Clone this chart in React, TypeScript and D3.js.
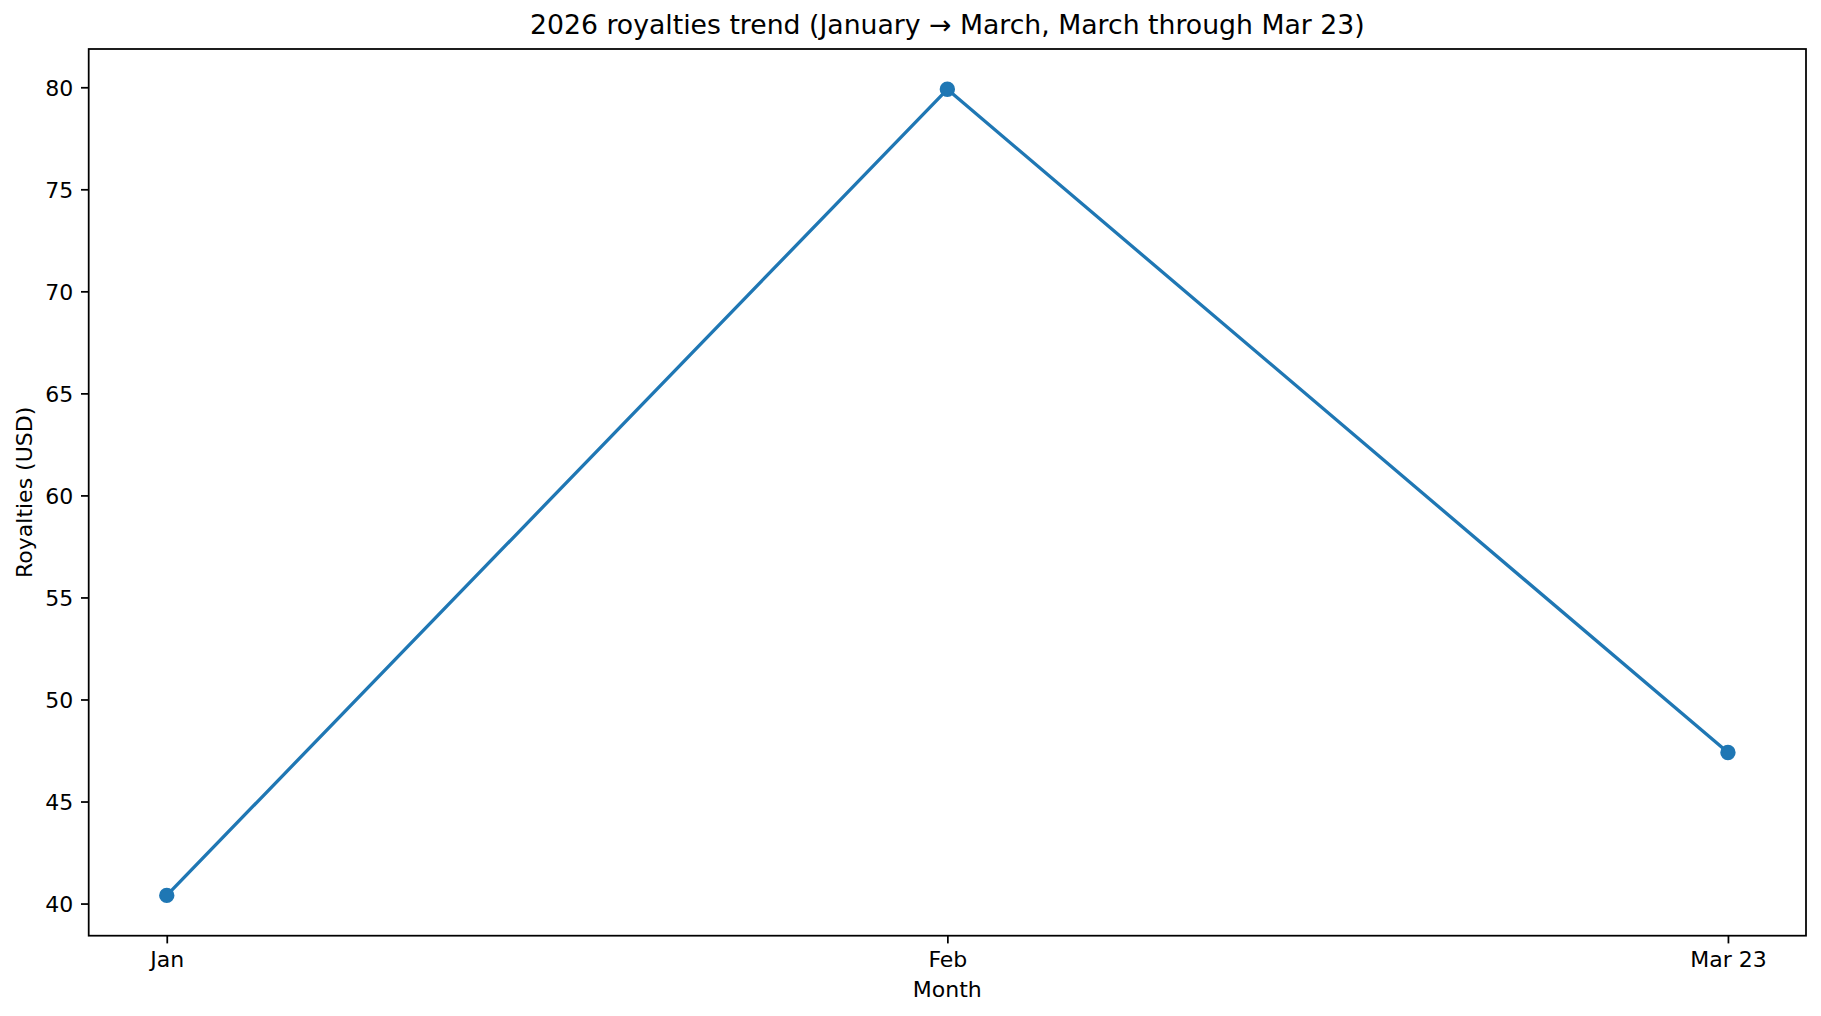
import { axisBottom, axisLeft, line, max, min, scaleLinear, scalePoint, select } from "d3";
import { useEffect, useRef } from "react";

const months = ["Jan", "Feb", "Mar 23"];
const royalties = [40.4, 79.9, 47.4];
const yTicks = [40, 45, 50, 55, 60, 65, 70, 75, 80];

const title = "2026 royalties trend (January → March, March through Mar 23)";
const xLabel = "Month";
const yLabel = "Royalties (USD)";

const WIDTH = 1821;
const HEIGHT = 1016;
const margin = { top: 49, right: 15, bottom: 80.3, left: 88.7 };
const PT = 2.2; // px per point
const BLUE = "#1f77b4";
const FONT = "'DejaVu Sans', sans-serif";

const App = () => {
  const ref = useRef<SVGSVGElement>(null);

  useEffect(() => {
    document.body.style.margin = "0";
    if (!ref.current) return;

    const svg = select(ref.current);
    svg.selectAll("*").remove();

    const innerW = WIDTH - margin.left - margin.right;
    const innerH = HEIGHT - margin.top - margin.bottom;

    const lo = min(royalties) as number;
    const hi = max(royalties) as number;
    const pad = (hi - lo) * 0.05;

    const x = scalePoint<string>().domain(months).range([0, innerW]).padding(0.1);
    const y = scaleLinear().domain([lo - pad, hi + pad]).range([innerH, 0]);

    const g = svg.append("g").attr("transform", `translate(${margin.left},${margin.top})`);

    const xAxis = axisBottom(x).tickSize(3.5 * PT).tickSizeOuter(0).tickPadding(3.5 * PT);
    const yAxis = axisLeft(y).tickValues(yTicks).tickSize(3.5 * PT).tickSizeOuter(0).tickPadding(3.5 * PT);

    const gx = g.append("g").attr("transform", `translate(0,${innerH})`).call(xAxis);
    const gy = g.append("g").call(yAxis);

    [gx, gy].forEach((ax) => {
      ax.select(".domain").remove();
      ax.selectAll(".tick line").attr("stroke", "#000").attr("stroke-width", 0.8 * PT);
      ax.selectAll(".tick text")
        .attr("fill", "#000")
        .style("font-family", FONT)
        .style("font-size", `${10 * PT}px`);
    });
    gx.selectAll(".tick text").attr("dy", "0.74em");
    gy.selectAll(".tick text").attr("dy", "0.36em");

    // line + markers
    const path = line<number>()
      .x((_, i) => x(months[i]) as number)
      .y((d) => y(d));

    g.append("path")
      .datum(royalties)
      .attr("d", path)
      .attr("fill", "none")
      .attr("stroke", BLUE)
      .attr("stroke-width", 1.5 * PT)
      .attr("stroke-linejoin", "round")
      .attr("stroke-linecap", "square");

    g.selectAll(".pt")
      .data(royalties)
      .join("circle")
      .classed("pt", true)
      .attr("cx", (_, i) => x(months[i]) as number)
      .attr("cy", (d) => y(d))
      .attr("r", 3 * PT)
      .attr("fill", BLUE)
      .attr("stroke", BLUE)
      .attr("stroke-width", 1 * PT);

    // spines
    g.append("rect")
      .attr("width", innerW)
      .attr("height", innerH)
      .attr("fill", "none")
      .attr("stroke", "#000")
      .attr("stroke-width", 0.8 * PT);

    svg.append("text")
      .attr("x", margin.left + innerW / 2)
      .attr("y", 33.6)
      .attr("text-anchor", "middle")
      .style("font-family", FONT)
      .style("font-size", "26.7px")
      .text(title);

    svg.append("text")
      .attr("x", margin.left + innerW / 2)
      .attr("y", 996.7)
      .attr("text-anchor", "middle")
      .style("font-family", FONT)
      .style("font-size", `${10 * PT}px`)
      .text(xLabel);

    svg.append("text")
      .attr("transform", `translate(32,${margin.top + innerH / 2}) rotate(-90)`)
      .attr("text-anchor", "middle")
      .style("font-family", FONT)
      .style("font-size", `${10 * PT}px`)
      .text(yLabel);
  }, []);

  return <svg ref={ref} width={WIDTH} height={HEIGHT} style={{ display: "block", background: "#fff" }} />;
};

export default App;
